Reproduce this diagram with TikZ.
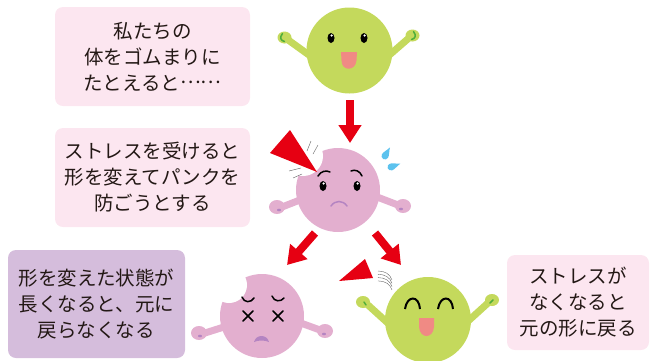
\documentclass[tikz,border=0pt]{standalone}
\usepackage{fontspec}
\setmainfont{Noto Sans CJK JP}
\usetikzlibrary{arrows.meta}

\definecolor{boxpink}{HTML}{FCE6F0}
\definecolor{boxlilac}{HTML}{D5BDDC}
\definecolor{ballgreen}{HTML}{C4D95C}
\definecolor{handmark}{HTML}{4FAE3B}
\definecolor{blobpink}{HTML}{E3AFCF}
\definecolor{blobmark}{HTML}{B484C2}
\definecolor{hitred}{HTML}{E60012}
\definecolor{tongue}{HTML}{F08A84}
\definecolor{sweat}{HTML}{5CC2EE}
\definecolor{ink}{HTML}{231815}

\tikzset{
  textbox/.style={fill=#1, rounded corners=8pt, align=center, text=ink,
    font=\fontsize{19.5}{26}\selectfont, inner sep=0pt},
  push/.style={hitred, line width=8pt, -{Triangle[length=18pt,width=22pt]}},
  arm/.style={line width=7pt, line cap=round},
  face/.style={line width=1.5pt, line cap=round},
}

\begin{document}
\begin{tikzpicture}[x=1pt,y=-1pt]

\def\ballR{43}
\def\blobR{42}

\useasboundingbox (0,0) rectangle (653,360);

% text boxes
\node[textbox=boxpink, minimum width=195pt, minimum height=99pt] (intro) at (152.5,56.5)
  {私たちの\\体をゴムまりに\\たとえると\raisebox{0.33em}{……}};
\node[textbox=boxpink, minimum width=195pt, minimum height=99pt] (stress) at (152.5,177.5)
  {ストレスを受けると\\形を変えてパンクを\\防ごうとする};
\node[textbox=boxlilac, minimum width=177pt, minimum height=108pt] (stay) at (96.5,304)
  {形を変えた状態が\\長くなると、元に\\戻らなくなる};
\node[textbox=boxpink, minimum width=142pt, minimum height=95pt] (recover) at (578,302.5)
  {ストレスが\\なくなると\\元の形に戻る};

\coordinate (ball) at (349.5,50.5);
\coordinate (dented) at (338,190);
\coordinate (flat) at (262,316);
\coordinate (bounce) at (428,320);

% green ball, arms up
\begin{scope}[shift={(ball)}]
	\draw [ballgreen,arm] (-37,7) -- (-62,-11);
	\draw [ballgreen,arm] (37,7) -- (60,-13);
	\fill [ballgreen] (-65,-13) ellipse (7 and 6);
	\fill [ballgreen] (63,-15) ellipse (7 and 6);
	\draw [handmark,face] (-67,-17) .. controls (-70,-13) and (-69,-10) .. (-65,-9);
	\draw [handmark,face] (64,-19) .. controls (67,-15) and (66,-12) .. (62,-11);
	\fill [ballgreen] (0,0) circle (\ballR);
	\foreach \ex in {-18.5,14.5} {
		\fill [black] (\ex,-12.5) ellipse (3.5 and 5);
		\fill [white] (\ex+0.6,-15) circle (1.3);
	}
	\fill [tongue] (-8.5,1.5) -- (7.5,1.5) -- (7,10)
	      .. controls (6,21) and (-8,21) .. (-8,10) -- cycle;
\end{scope}

% pink ball, dented by the push
\begin{scope}[shift={(dented)}]
	\draw [blobpink,arm] (-33,8) -- (-56,17);
	\draw [blobpink,arm] (34,5) -- (60,15);
	\fill [blobpink] (-61,17) ellipse (8 and 7);
	\fill [blobpink] (65,16) ellipse (8 and 7);
	\fill [blobmark] (-59,20) ellipse (2 and 1.3);
	\fill [blobmark] (63,19) ellipse (2 and 1.3);
	\fill [blobpink] (0,0) circle (\blobR);
	% bite
	\fill [white] (-35,-34) circle (20);
	\foreach \ex in {-15,19} {
		\fill [black] (\ex,-4) ellipse (3.5 and 5);
		\fill [white] (\ex+0.6,-6.5) circle (1.3);
	}
	\draw [black,face] (-20,-14) .. controls (-17,-19) and (-12,-20) .. (-8,-18);
	\draw [black,face] (13,-19) .. controls (17,-21) and (22,-19) .. (24,-14);
	\draw [blobmark,face] (-7,16) .. controls (-3,10) and (5,10) .. (9,16);
\end{scope}

% sweat drops
\fill [sweat, shift={(385,156)}, rotate=-30] (0,-10) .. controls (1,-6) and (3.5,-3) .. (3.5,0)
      arc (0:180:3.5) .. controls (-3.5,-3) and (-1,-6) .. (0,-10);
\fill [sweat, shift={(391,167)}, rotate=-70] (0,-10) .. controls (1,-6) and (3.5,-3) .. (3.5,0)
      arc (0:180:3.5) .. controls (-3.5,-3) and (-1,-6) .. (0,-10);

% push on the pink ball
\fill [hitred] (270,153) -- (290,130) -- (317,172) -- cycle;
\draw [gray!80!black] (307,151) -- (311,141) (313,154) -- (318,145);
\draw [gray!80!black] (289,171) -- (301,168) (293,178) -- (302,174);

% flattened ball, stuck
\begin{scope}[shift={(flat)}]
	\draw [blobpink,arm] (-35,10) -- (-57,17);
	\draw [blobpink,arm] (36,6) -- (58,14);
	\fill [blobpink] (-63,17) ellipse (8 and 7);
	\fill [blobpink] (63,15) ellipse (8 and 7);
	\fill [blobmark] (-62,20) ellipse (2 and 1.3);
	\fill [blobmark] (62,18) ellipse (2 and 1.3);
	\fill [blobpink] (0,0) circle (\blobR);
	\fill [white] (-33,-31) circle (18);
	\draw [black,face] (-20,-19) .. controls (-18,-13) and (-11,-13) .. (-8,-18);
	\draw [black,face] (10,-20) .. controls (12,-14) and (19,-14) .. (22,-18);
	\foreach \ex in {-14,16} {
		\draw [black,face] (\ex-5,-5) -- (\ex+5,5) (\ex-5,5) -- (\ex+5,-5);
	}
	\fill [blobmark] (-8,26) .. controls (-6,18) and (5,18) .. (7,26)
	      .. controls (3,24) and (-4,24) .. cycle;
\end{scope}

% green ball bounced back
\begin{scope}[shift={(bounce)}]
	\draw [ballgreen,arm] (-38,5) -- (-60,-15);
	\draw [ballgreen,arm] (38,3) -- (60,-17);
	\fill [ballgreen] (-65,-18) ellipse (7 and 6);
	\fill [ballgreen] (64,-20) ellipse (7 and 6);
	\draw [handmark,face] (-64,-18) -- (-62,-15);
	\draw [handmark,face] (62,-17) -- (65,-20);
	\fill [ballgreen] (0,0) circle (\ballR);
	\draw [black,line width=2pt] (-23,-11) .. controls (-21,-25) and (-9,-25) .. (-8,-11);
	\draw [black,line width=2pt] (10,-11) .. controls (12,-25) and (24,-25) .. (25,-11);
	\fill [tongue] (-9,-2) -- (6,-2) -- (6,7)
	      .. controls (5,19) and (-8,19) .. (-9,7) -- cycle;
\end{scope}

% push on the green ball
\fill [hitred] (339,281) -- (365,259) -- (373,278) -- cycle;
\foreach \i in {0,...,3}
	\draw [gray!80!black] (378,271+3.3*\i) .. controls (385,271+3.3*\i) and (390,274+3.3*\i) .. (392,280+3.3*\i);

% arrows
\coordinate (downA) at (350,100);
\coordinate (downB) at (350,143);
\coordinate (leftA) at (315,233);
\coordinate (leftB) at (287,265);
\coordinate (rightA) at (375,233);
\coordinate (rightB) at (401,265);
\draw [push] (downA) -- (downB);
\draw [push] (leftA) -- (leftB);
\draw [push] (rightA) -- (rightB);

\end{tikzpicture}
\end{document}
